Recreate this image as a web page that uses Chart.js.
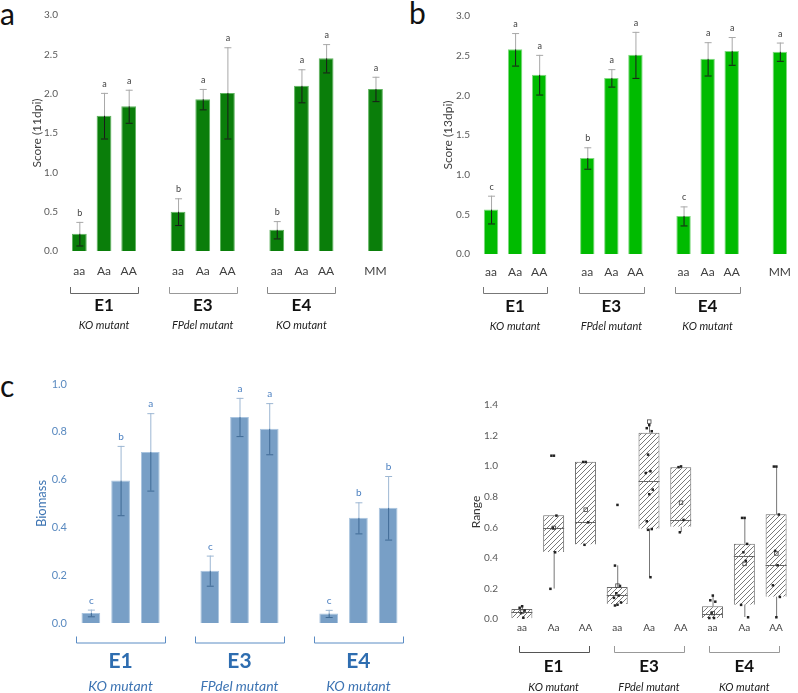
<!DOCTYPE html>
<html><head><meta charset="utf-8">
<script src="https://cdn.jsdelivr.net/npm/chart.js@4/dist/chart.umd.min.js"></script>
<style>
html,body{margin:0;padding:0;overflow:hidden;background:#fff;width:798px;height:693px;}
canvas{position:absolute;}
.pl{position:absolute;font-family:Lato,"Liberation Sans",sans-serif;font-size:30px;color:#111;line-height:1;}
</style></head><body>
<div class="pl" style="left:0px;top:-2px;">a</div>
<div class="pl" style="left:409px;top:-3px;">b</div>
<div class="pl" style="left:0px;top:370px;">c</div>
<canvas id="ca" width="400" height="340" style="left:0;top:0;"></canvas>
<canvas id="cb" width="402" height="340" style="left:400px;top:0;"></canvas>
<canvas id="cc" width="420" height="353" style="left:0;top:340px;"></canvas>
<canvas id="cd" width="378" height="353" style="left:420px;top:340px;"></canvas>
<script>
// ---------- DATA ----------
const catsScore = ['aa','Aa','AA','','aa','Aa','AA','','aa','Aa','AA','','MM'];
const score11 = [0.22,1.72,1.84,null,0.50,1.93,2.01,null,0.27,2.10,2.45,null,2.06];
const score11Err = [0.15,0.29,0.21,null,0.17,0.13,0.58,null,0.11,0.21,0.18,null,0.155];
const score11Let = ['b','a','a','','b','a','a','','b','a','a','','a'];
const score13 = [0.56,2.58,2.26,null,1.21,2.22,2.51,null,0.48,2.46,2.56,null,2.55];
const score13Err = [0.175,0.205,0.25,null,0.135,0.11,0.29,null,0.12,0.21,0.175,null,0.115];
const score13Let = ['c','a','a','','b','a','a','','c','a','a','','a'];
const catsBio = ['aa','Aa','AA','','aa','Aa','AA','','aa','Aa','AA'];
const biomass = [0.042,0.596,0.716,null,0.219,0.862,0.813,null,0.040,0.440,0.482];
const biomassErr = [0.014,0.145,0.162,null,0.063,0.08,0.107,null,0.015,0.065,0.133];
const biomassLet = ['c','b','a','','c','a','a','','c','b','b'];
const catsRange = ['aa','Aa','AA','aa','Aa','AA','aa','Aa','AA'];
const boxQ1 = [0.005,0.438,0.487,0.098,0.591,0.604,0.007,0.094,0.146];
const boxQ3 = [0.065,0.678,1.029,0.210,1.219,0.992,0.083,0.493,0.685];
const boxMed = [0.044,0.598,0.634,0.160,0.900,0.650,0.035,0.410,0.353];
const whiskLo = [0.005,0.199,0.487,0.090,0.275,0.569,0.007,0.013,0.013];
const whiskHi = [0.085,0.678,1.029,0.351,1.270,1.000,0.155,0.663,0.999];
const boxMean = [0.050,0.598,0.717,0.220,1.293,0.763,0.040,0.362,0.430];
const boxPoints = [
  [0.085,0.075,0.057,0.040,0.010],
  [1.070,1.070,0.678,0.598,0.438,0.199],
  [1.029,1.029,0.634,0.487],
  [0.748,0.351,0.218,0.170,0.155,0.140,0.110,0.095,0.090],
  [1.270,1.250,1.230,1.077,0.968,0.957,0.848,0.818,0.641,0.590,0.585,0.275],
  [1.000,0.995,0.650,0.569],
  [0.155,0.124,0.115,0.040,0.008,0.008],
  [0.663,0.663,0.493,0.438,0.382,0.094,0.013],
  [0.999,0.999,0.685,0.447,0.353,0.222,0.146,0.013]
];
const groupNames = ['E1','E3','E4'];
const groupSubs = ['KO mutant','FPdel mutant','KO mutant'];
const groupsBar = [[0,2],[4,6],[8,10]];
const groupsBox = [[0,2],[3,5],[6,8]];

const FF = 'Lato, "Liberation Sans", sans-serif';
Chart.defaults.font.family = FF;
Chart.defaults.animation = false;

function line(ctx,x1,y1,x2,y2){ctx.beginPath();ctx.moveTo(x1,y1);ctx.lineTo(x2,y2);ctx.stroke();}

function makeAnnot(c){
  return {
    id:'annot',
    afterDatasetsDraw(chart){
      const ctx=chart.ctx, xs=chart.scales.x, ys=chart.scales.y;
      const slot = xs.getPixelForValue(1)-xs.getPixelForValue(0);
      ctx.save();
      if(c.values){
        const meta=chart.getDatasetMeta(0);
        c.values.forEach((v,i)=>{
          if(v==null) return;
          const e=c.err[i], px=meta.data[i].x;
          const yT=ys.getPixelForValue(v+e), yB=ys.getPixelForValue(v-e), yV=ys.getPixelForValue(v);
          ctx.lineWidth=1;
          ctx.strokeStyle=c.errOut;
          line(ctx,px+0.5,yT,px+0.5,yV); line(ctx,px-c.cap,yT+0.5,px+c.cap+1,yT+0.5);
          ctx.strokeStyle=c.errIn;
          line(ctx,px+0.5,yV,px+0.5,yB); line(ctx,px-c.cap,yB+0.5,px+c.cap+1,yB+0.5);
          ctx.fillStyle=c.letterColor; ctx.font=c.letterFont; ctx.textAlign='center'; ctx.textBaseline='alphabetic';
          ctx.fillText(c.letters[i],px+0.5,yT-c.letterGap);
        });
      }
      if(c.box){
        const meta=chart.getDatasetMeta(0);
        const jit=[0,-2.5,2.5,-1.2,1.2,-3.5,3.5];
        boxMed.forEach((m,i)=>{
          const el=meta.data[i], px=el.x, hw=el.width/2;
          ctx.strokeStyle='#666'; ctx.lineWidth=1;
          const ym=Math.round(ys.getPixelForValue(m))+0.5;
          line(ctx,px-hw,ym,px+hw,ym);
          ctx.strokeStyle='#777';
          const q1=ys.getPixelForValue(boxQ1[i]), q3=ys.getPixelForValue(boxQ3[i]);
          const wl=ys.getPixelForValue(whiskLo[i]), wh=ys.getPixelForValue(whiskHi[i]);
          if(wl>q1+0.5) line(ctx,px+0.5,q1,px+0.5,wl);
          if(wh<q3-0.5) line(ctx,px+0.5,q3,px+0.5,wh);
          ctx.fillStyle='#222';
          boxPoints[i].forEach((p,k)=>{
            const py=ys.getPixelForValue(p);
            ctx.fillRect(px+jit[k%jit.length]-1,py-1,2.5,2.5);
          });
          const my=ys.getPixelForValue(boxMean[i]);
          ctx.strokeStyle='#444'; ctx.lineWidth=0.8;
          ctx.strokeRect(px-1.5,my-1.5,3.5,3.5);
        });
      }
      // groups
      ctx.lineWidth=1; ctx.textAlign='center'; ctx.textBaseline='middle';
      c.groups.forEach((g,j)=>{
        const xl=Math.round(xs.getPixelForValue(g[0])-slot*c.bk)+0.5;
        const xr=Math.round(xs.getPixelForValue(g[1])+slot*c.bk)+0.5;
        ctx.strokeStyle=c.brColor[j];
        ctx.beginPath(); ctx.moveTo(xl,c.brY-c.brTick); ctx.lineTo(xl,c.brY+0.5); ctx.lineTo(xr,c.brY+0.5); ctx.lineTo(xr,c.brY-c.brTick); ctx.stroke();
        const cx=(xs.getPixelForValue(g[0])+xs.getPixelForValue(g[1]))/2;
        ctx.fillStyle=c.nameColor; ctx.font=c.nameFont; ctx.fillText(groupNames[j],cx,c.nameY);
        ctx.fillStyle=c.subColor; ctx.font=c.subFont; ctx.fillText(groupSubs[j],cx,c.subY);
      });
      ctx.restore();
    }
  };
}

function barChart(id, cats, vals, colors, pad, yW, xH, yOpts, xOpts, bp, annot){
  return new Chart(document.getElementById(id),{
    type:'bar',
    data:{labels:cats,datasets:[{data:vals,backgroundColor:colors[0],borderColor:colors[1],borderWidth:1,barPercentage:bp,categoryPercentage:1}]},
    options:{responsive:false,animation:false,
      layout:{padding:pad},
      plugins:{legend:{display:false},tooltip:{enabled:false}},
      scales:{
        x:Object.assign({grid:{display:false,drawTicks:false},border:{display:false},afterFit:s=>{s.height=xH;}},xOpts),
        y:Object.assign({grid:{display:false,drawTicks:false},border:{display:false},afterFit:s=>{s.width=yW;}},yOpts)
      }},
    plugins:[annot]
  });
}

// ---------- Panel a ----------
barChart('ca',catsScore,score11,['#0a7e0a','#5fb45f'],{left:0,right:10,top:13,bottom:49},67,40,
  {min:0,max:3,ticks:{stepSize:0.5,padding:9,color:'#595959',font:{size:10},callback:v=>v.toFixed(1)},
   title:{display:true,text:'Score (11dpi)',color:'#404040',font:{size:12},padding:{top:30,bottom:0}}},
  {ticks:{padding:13,color:'#404040',font:{size:12},autoSkip:false,maxRotation:0}},0.6,
  makeAnnot({values:score11,err:score11Err,letters:score11Let,errOut:'#a8a8a8',errIn:'#1a1a1a',cap:3,
    letterColor:'#404040',letterFont:'9px '+FF,letterGap:6,
    groups:groupsBar,bk:0.38,brY:293,brTick:6,brColor:['#666','#999','#888'],
    nameColor:'#111',nameFont:'bold 17px '+FF,nameY:306,subColor:'#222',subFont:'italic 11px '+FF,subY:325}));

// ---------- Panel b ----------
barChart('cb',catsScore,score13,['#00bb00','#7fd87f'],{left:0,right:1,top:16,bottom:46},79,40,
  {min:0,max:3,ticks:{stepSize:0.5,padding:9,color:'#595959',font:{size:10},callback:v=>v.toFixed(1)},
   title:{display:true,text:'Score (13dpi)',color:'#404040',font:{size:12},padding:{top:41,bottom:0}}},
  {ticks:{padding:11,color:'#404040',font:{size:12},autoSkip:false,maxRotation:0}},0.6,
  makeAnnot({values:score13,err:score13Err,letters:score13Let,errOut:'#a8a8a8',errIn:'#1a1a1a',cap:3,
    letterColor:'#404040',letterFont:'9px '+FF,letterGap:6,
    groups:groupsBar,bk:0.34,brY:293,brTick:6,brColor:['#777','#888','#888'],
    nameColor:'#111',nameFont:'bold 17px '+FF,nameY:307,subColor:'#222',subFont:'italic 11px '+FF,subY:326}));

// ---------- Panel c ----------
barChart('cc',catsBio,biomass,['#789fc6','#a9c4df'],{left:0,right:17,top:44,bottom:40},76,30,
  {min:0,max:1,ticks:{stepSize:0.2,padding:9,color:'#5a8ac0',font:{size:11},callback:v=>v.toFixed(1)},
   title:{display:true,text:'Biomass',color:'#3d74b3',font:{size:13},padding:{top:34,bottom:0}}},
  {ticks:{display:false}},0.63,
  makeAnnot({values:biomass,err:biomassErr,letters:biomassLet,errOut:'#9db7d3',errIn:'#3f6a95',cap:3,
    letterColor:'#4a7fc0',letterFont:'10px '+FF,letterGap:6,
    groups:groupsBar,bk:0.49,brY:302.5,brTick:6,brColor:['#5b8cc4','#5b8cc4','#5b8cc4'],
    nameColor:'#2e6db0',nameFont:'bold 21px '+FF,nameY:321,subColor:'#3d74b3',subFont:'italic 14px '+FF,subY:346}));

// ---------- Panel d (box plot) ----------
function hatch(){
  const p=document.createElement('canvas'); p.width=5; p.height=5;
  const g=p.getContext('2d'); g.fillStyle='#fff'; g.fillRect(0,0,5,5);
  g.strokeStyle='#6a6a6a'; g.lineWidth=0.9;
  g.beginPath(); g.moveTo(-1,6); g.lineTo(6,-1); g.moveTo(-1,1); g.lineTo(1,-1); g.moveTo(4,6); g.lineTo(6,4); g.stroke();
  return g.createPattern(p,'repeat');
}
const boxData = boxQ1.map((q,i)=>[q,boxQ3[i]]);
barChart('cd',catsRange,boxData,[hatch(),'#6a6a6a'],{left:0,right:6,top:65,bottom:44},86,30,
  {min:0,max:1.4,ticks:{stepSize:0.2,padding:8,color:'#595959',font:{size:10},callback:v=>v.toFixed(1)},
   title:{display:true,text:'Range',color:'#333',font:{size:12},padding:{top:49,bottom:0}}},
  {ticks:{padding:3,color:'#404040',font:{size:10},autoSkip:false,maxRotation:0}},0.66,
  makeAnnot({box:true,
    groups:groupsBox,bk:0.1,brY:312,brTick:6,brColor:['#555','#999','#999'],
    nameColor:'#111',nameFont:'bold 17px '+FF,nameY:327,subColor:'#222',subFont:'italic 11px '+FF,subY:347}));
</script>
</body></html>
